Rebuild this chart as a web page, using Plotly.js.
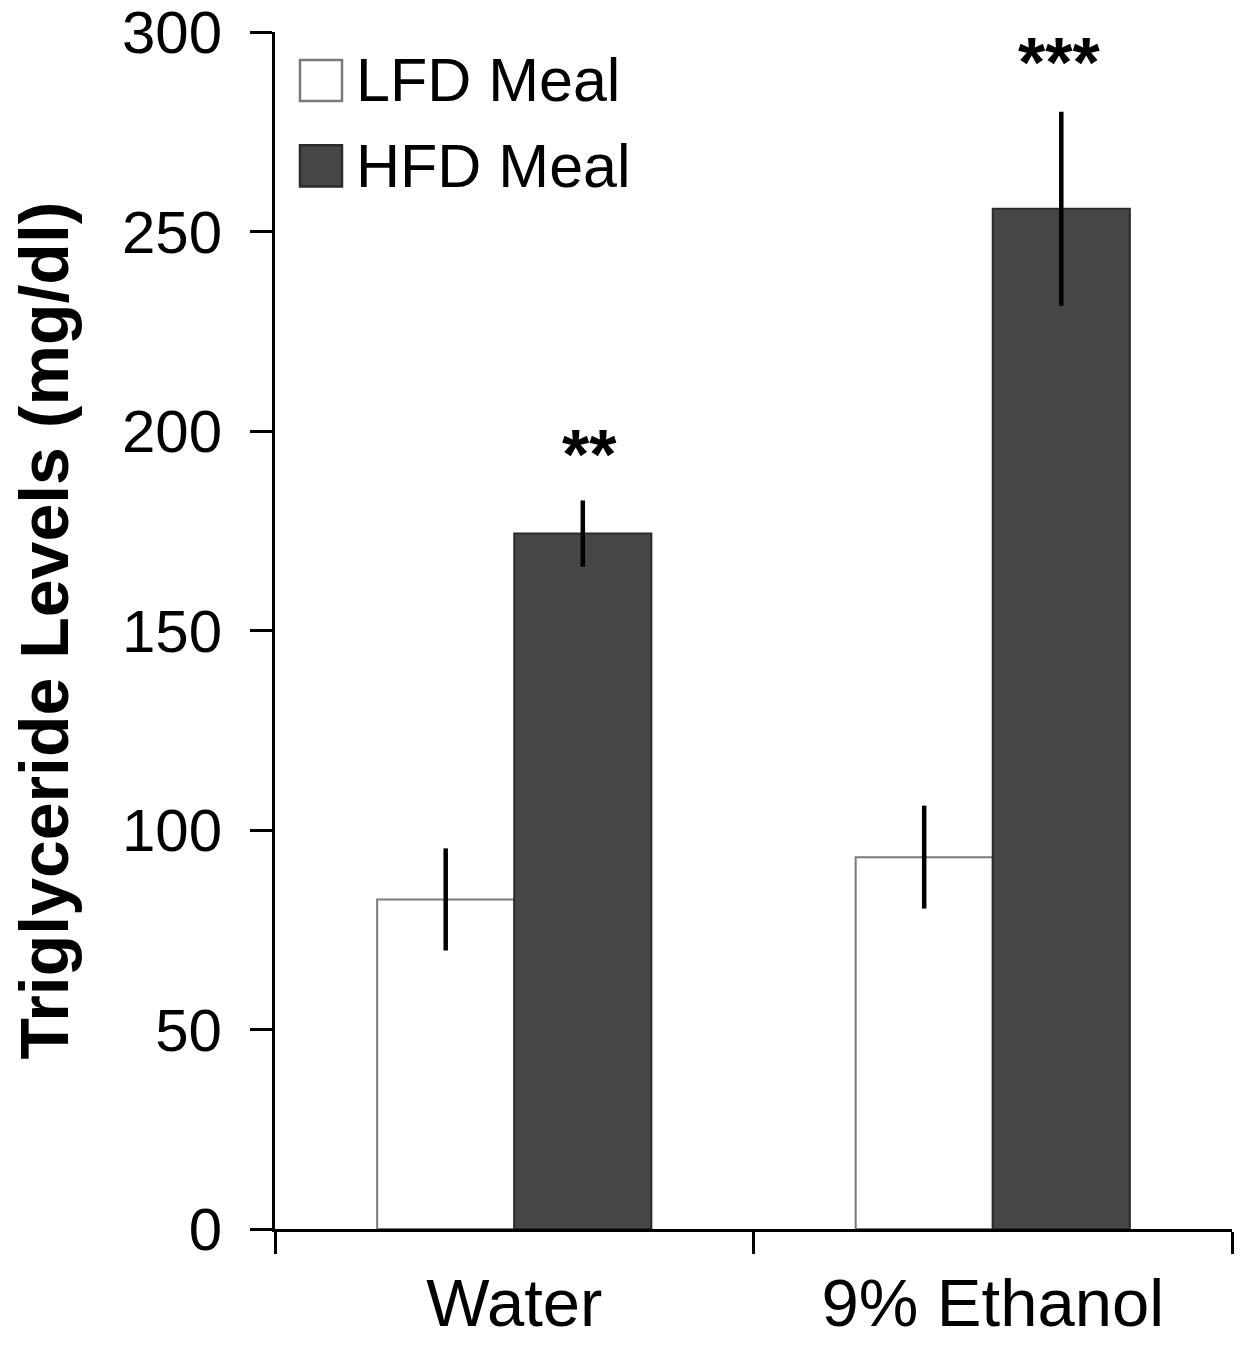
<!DOCTYPE html>
<html>
<head>
<meta charset="utf-8">
<script src="https://cdn.plot.ly/plotly-3.0.1.min.js"></script>
<style>html,body{margin:0;padding:0;background:#fff;}#chart{width:1248px;height:1345px;}</style>
</head>
<body>
<div id="chart"></div>
<script>
// ---- data ----
const categories = ['Water', '9% Ethanol'];
const seriesNames = ['LFD Meal', 'HFD Meal'];
const lfdValues = [82.6, 93.2];
const lfdErrors = [12.8, 12.9];
const hfdValues = [174.3, 255.7];
const hfdErrors = [8.3, 24.3];
const significance = ['**', '***'];
const yTickValues = [0, 50, 100, 150, 200, 250, 300];

const FONT = 'Liberation Sans, Arial, sans-serif';
const BARGAP = 0.427;

const traces = [
  {
    type: 'bar', name: seriesNames[0], x: categories, y: lfdValues,
    marker: {color: '#ffffff', line: {color: '#7a7a7a', width: 2}},
    error_y: {type: 'data', array: lfdErrors, visible: true, color: '#000000', thickness: 4.5, width: 0},
    showlegend: false
  },
  {
    type: 'bar', name: seriesNames[1], x: categories, y: hfdValues,
    marker: {color: '#464646', line: {color: '#2a2a2a', width: 2}},
    error_y: {type: 'data', array: hfdErrors, visible: true, color: '#000000', thickness: 4.5, width: 0},
    showlegend: false
  }
];

const barOffset = (1 - BARGAP) / 4;
const annotations = significance.map((s, i) => ({
  x: i + barOffset, y: hfdValues[i] + hfdErrors[i], xref: 'x', yref: 'y',
  text: '<b>' + s + '</b>', showarrow: false, xanchor: 'center', yanchor: 'bottom',
  yshift: i === 0 ? 4 : 8,
  xshift: i === 0 ? 7 : -2,
  font: {family: FONT, size: 70, color: '#000'}
}));

// manual legend (large swatches as in the reference)
const legendFills = ['#ffffff', '#464646'];
const legendLines = ['#7a7a7a', '#2a2a2a'];
const legendRows = [0.9595, 0.8881];
const shapes = [];
seriesNames.forEach((n, i) => {
  shapes.push({type: 'rect', xref: 'paper', yref: 'paper',
    x0: 0.0261, x1: 0.0700, y0: legendRows[i] - 0.0172, y1: legendRows[i] + 0.0172,
    fillcolor: legendFills[i], line: {color: legendLines[i], width: 2.5}});
  annotations.push({xref: 'paper', yref: 'paper', x: 0.0830, y: legendRows[i],
    xanchor: 'left', yanchor: 'middle', text: n, showarrow: false,
    font: {family: FONT, size: 61, color: '#000'}});
});

const layout = {
  width: 1248, height: 1345,
  margin: {l: 275, r: 16, t: 32, b: 116},
  paper_bgcolor: '#fff', plot_bgcolor: '#fff',
  font: {family: FONT, color: '#000'},
  barmode: 'group', bargap: BARGAP, bargroupgap: 0,
  showlegend: false,
  xaxis: {
    type: 'category', showgrid: false, zeroline: false,
    showline: true, linecolor: '#000', linewidth: 3,
    ticks: 'outside', tickson: 'boundaries', ticklen: 22, tickwidth: 3, tickcolor: '#000',
    tickfont: {family: FONT, size: 67, color: '#000'},
    ticklabelstandoff: 14,
    automargin: false
  },
  yaxis: {
    range: [0, 300], tickvals: yTickValues, ticktext: yTickValues.map(String),
    showgrid: false, zeroline: false,
    showline: true, linecolor: '#000', linewidth: 3,
    ticks: 'outside', ticklen: 22, tickwidth: 3, tickcolor: '#000',
    tickfont: {family: FONT, size: 60, color: '#000'},
    ticklabelstandoff: 16,
    ticklabeloverflow: 'allow',
    title: {text: '<b>Triglyceride Levels (mg/dl)</b>', font: {family: FONT, size: 68, color: '#000'}, standoff: 32},
    automargin: false
  },
  annotations: annotations,
  shapes: shapes
};

Plotly.newPlot('chart', traces, layout, {displayModeBar: false, staticPlot: true});
</script>
</body>
</html>
